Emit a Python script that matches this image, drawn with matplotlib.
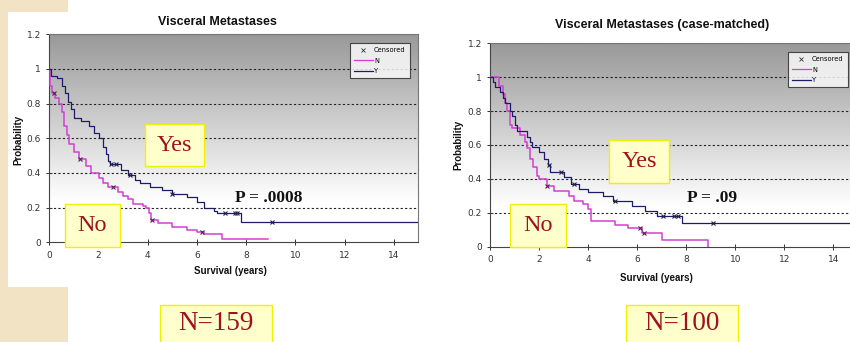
import numpy as np
import matplotlib
matplotlib.use("Agg")
import matplotlib.pyplot as plt
from matplotlib.lines import Line2D
from matplotlib.patches import Rectangle

# ---------------- data ----------------
titles = ["Visceral Metastases", "Visceral Metastases (case-matched)"]
p_labels = ["P = .0008", "P = .09"]
n_labels = ["N=159", "N=100"]
x_ticks = [0, 2, 4, 6, 8, 10, 12, 14]
y_ticks = [0, 0.2, 0.4, 0.6, 0.8, 1.0, 1.2]
y_tick_labels = ["0", "0.2", "0.4", "0.6", "0.8", "1", "1.2"]

# Left panel (all patients)
yL_t = [0, 0.05, 0.3, 0.5, 0.65, 0.75, 0.9, 1.0, 1.3, 1.6, 1.8, 2.0, 2.2, 2.3, 2.4, 2.45,
        2.9, 3.2, 3.5, 3.7, 4.1, 4.6, 5.0, 5.6, 6.0, 6.3, 6.7, 6.8, 7.8, 15]
yL_s = [1.0, 0.96, 0.95, 0.90, 0.86, 0.81, 0.77, 0.72, 0.70, 0.67, 0.63, 0.60, 0.55, 0.51, 0.47, 0.45,
        0.42, 0.39, 0.36, 0.34, 0.32, 0.30, 0.28, 0.26, 0.23, 0.20, 0.18, 0.17, 0.12, 0.12]
yL_cens = [2.5, 2.7, 3.3, 5.0, 7.15, 7.55, 7.65, 9.05]
nL_t = [0, 0.02, 0.1, 0.25, 0.4, 0.5, 0.6, 0.7, 0.8, 1.0, 1.2, 1.5, 1.7, 2.0, 2.2, 2.4, 2.8, 3.0,
        3.2, 3.4, 3.8, 3.95, 4.05, 4.15, 4.4, 5.0, 5.6, 6.0, 6.3, 7.0, 8.9]
nL_s = [1.0, 0.90, 0.86, 0.83, 0.80, 0.75, 0.67, 0.62, 0.57, 0.52, 0.48, 0.44, 0.40, 0.37, 0.34, 0.32, 0.29, 0.27,
        0.25, 0.22, 0.21, 0.20, 0.17, 0.13, 0.11, 0.09, 0.07, 0.06, 0.05, 0.02, 0.02]
nL_cens = [0.18, 1.25, 2.6, 4.18, 6.2]

# Right panel (case-matched)
yR_t = [0, 0.1, 0.2, 0.4, 0.5, 0.6, 0.8, 0.9, 1.0, 1.1, 1.5, 1.6, 1.7, 2.0, 2.2, 2.35, 2.45,
        3.0, 3.3, 3.6, 4.0, 4.6, 5.0, 5.8, 6.3, 6.8, 7.8, 15]
yR_s = [1.0, 0.97, 0.94, 0.91, 0.88, 0.85, 0.80, 0.77, 0.72, 0.68, 0.65, 0.62, 0.59, 0.56, 0.52, 0.48, 0.44,
        0.41, 0.37, 0.34, 0.32, 0.30, 0.27, 0.24, 0.21, 0.18, 0.14, 0.14]
yR_cens = [2.4, 2.9, 3.4, 5.1, 7.05, 7.5, 7.65, 9.1]
nR_t = [0, 0.35, 0.5, 0.6, 0.7, 0.8, 0.9, 1.2, 1.4, 1.5, 1.6, 1.75, 1.9, 2.0, 2.3, 2.6, 3.2, 3.4,
        3.8, 4.0, 4.1, 5.1, 5.6, 6.2, 7.0, 8.9]
nR_s = [1.0, 0.95, 0.90, 0.85, 0.80, 0.72, 0.70, 0.66, 0.62, 0.58, 0.52, 0.47, 0.42, 0.40, 0.36, 0.33, 0.30, 0.27,
        0.25, 0.22, 0.15, 0.13, 0.11, 0.08, 0.04, 0.0]
nR_cens = [2.3, 6.1, 6.28]

panels = [
    dict(y=(yL_t, yL_s, yL_cens), n=(nL_t, nL_s, nL_cens)),
    dict(y=(yR_t, yR_s, yR_cens), n=(nR_t, nR_s, nR_cens)),
]

# ---------------- styling ----------------
W, H = 850, 342
NAVY = "#1c1c6a"
MAG = "#d23fd2"
RED = "#a01020"
BOXFILL = "#ffffcc"
BOXEDGE = "#f0f000"
BEIGE = "#f1e3c3"

fig = plt.figure(figsize=(W / 100, H / 100), dpi=100)
fig.patch.set_facecolor("white")


def fx(px):
    return px / W


def fy(py):
    return 1 - py / H


# beige slide background patches
for (x0, y0, x1, y1) in [(0, 0, 68, 12), (0, 12, 8, 287), (0, 287, 68, 342)]:
    fig.patches.append(Rectangle((fx(x0), fy(y1)), fx(x1 - x0), (y1 - y0) / H,
                                 transform=fig.transFigure, facecolor=BEIGE,
                                 edgecolor="none", zorder=0))

# axes positions in pixels: left, right, top, bottom
axes_px = [(49.3, 418.3, 34.3, 242.3), (490.3, 858.0, 43.3, 246.7)]
title_pos = [(217, 22), (662, 25)]
ylabel_pos = [(18, 140), (458, 145)]
xlabel_pos = [(230, 271), (656, 278)]
legend_pos = [(350, 43), (788, 52)]
yes_box = [(145, 124, 204, 166), (609, 140, 669, 183)]
no_box = [(65, 204, 120, 247), (510, 204, 566, 247)]
p_pos = [(269, 198), (712, 198)]
n_box = [(160, 305, 272, 345), (626, 305, 738, 345)]

grad = np.linspace(1.0, 0.0, 256)[:, None]
grad_vals = np.clip(0.60 + 0.40 * (1 - grad) * 1.25, 0, 1)


def surv_at(t, s, c):
    i = np.searchsorted(np.asarray(t), c, side="right") - 1
    return np.asarray(s)[i]


for k, pan in enumerate(panels):
    l, r, t, b = axes_px[k]
    ax = fig.add_axes([fx(l), fy(b), fx(r - l), (b - t) / H])
    ax.set_xlim(0, 15)
    ax.set_ylim(0, 1.2)
    # gradient background
    ax.imshow(np.dstack([grad_vals] * 3), extent=[0, 15, 0, 1.2], aspect="auto",
              origin="upper", zorder=0)
    for g in y_ticks[1:]:
        ax.axhline(g, color="#222222", lw=0.8, ls=(0, (2, 2)), zorder=1)
    # curves
    nt, ns, nc = pan["n"]
    yt, ys, yc = pan["y"]
    ax.step(nt, ns, where="post", color=MAG, lw=1.1, zorder=3)
    ax.step(yt, ys, where="post", color=NAVY, lw=0.9, zorder=4)
    ax.plot(nc, [surv_at(nt, ns, c) for c in nc], ls="none", marker="x", ms=3,
            mew=0.8, color="#552255", zorder=5)
    ax.plot(yc, [surv_at(yt, ys, c) for c in yc], ls="none", marker="x", ms=3,
            mew=0.8, color="#222244", zorder=5)

    ax.set_xticks(x_ticks)
    ax.set_yticks(y_ticks)
    ax.set_yticklabels(y_tick_labels)
    ax.tick_params(direction="inout", length=4, width=0.7, labelsize=6.5,
                   colors="#333333", pad=4)
    for side in ["left", "bottom"]:
        ax.spines[side].set_color("#444444")
        ax.spines[side].set_linewidth(0.8)
    for side in ["top", "right"]:
        ax.spines[side].set_color("#777777")
        ax.spines[side].set_linewidth(0.8)

    # titles and labels
    fig.text(fx(title_pos[k][0]), fy(title_pos[k][1]), titles[k], ha="center", va="center",
             fontsize=9, fontweight="bold", family="Liberation Sans", color="#111111")
    fig.text(fx(ylabel_pos[k][0]), fy(ylabel_pos[k][1]), "Probability", rotation=90,
             ha="center", va="center", fontsize=7, fontweight="bold",
             family="Liberation Sans", color="#111111")
    fig.text(fx(xlabel_pos[k][0]), fy(xlabel_pos[k][1]), "Survival (years)",
             ha="center", va="center", fontsize=7, fontweight="bold",
             family="Liberation Sans", color="#111111")

    # legend
    handles = [Line2D([], [], ls="none", marker="x", ms=2.5, mew=0.6, color="#333333"),
               Line2D([], [], color=MAG, lw=0.9),
               Line2D([], [], color=NAVY, lw=0.9)]
    leg = fig.legend(handles, ["Censored", "N", "Y"], loc="upper left",
                     bbox_to_anchor=(fx(legend_pos[k][0]), fy(legend_pos[k][1])),
                     bbox_transform=fig.transFigure, fontsize=4.8, frameon=True,
                     fancybox=False, handlelength=2.8, handletextpad=0.2,
                     borderpad=0.6, labelspacing=0.7, borderaxespad=0)
    leg.get_frame().set_edgecolor("#222222")
    leg.get_frame().set_linewidth(0.8)
    leg.get_frame().set_facecolor("white")
    leg.set_zorder(10)

    # annotation boxes
    for (bx, txt, fs) in [(yes_box[k], "Yes", 17.5), (no_box[k], "No", 17.5),
                          (n_box[k], n_labels[k], 19.5)]:
        x0, y0, x1, y1 = bx
        fig.patches.append(Rectangle((fx(x0), fy(y1)), fx(x1 - x0), (y1 - y0) / H,
                                     transform=fig.transFigure, facecolor=BOXFILL,
                                     edgecolor=BOXEDGE, lw=1.0, zorder=20))
        cy = (y0 + min(y1, 342)) / 2
        fig.text(fx((x0 + x1) / 2), fy(cy), txt, ha="center", va="center",
                 fontsize=fs, family="Liberation Serif", color=RED, zorder=21)
    fig.text(fx(p_pos[k][0]), fy(p_pos[k][1]), p_labels[k], ha="center", va="center",
             fontsize=12.5, fontweight="bold", family="Liberation Serif",
             color="#111111", zorder=21)

fig.savefig("out.png", dpi=100)
